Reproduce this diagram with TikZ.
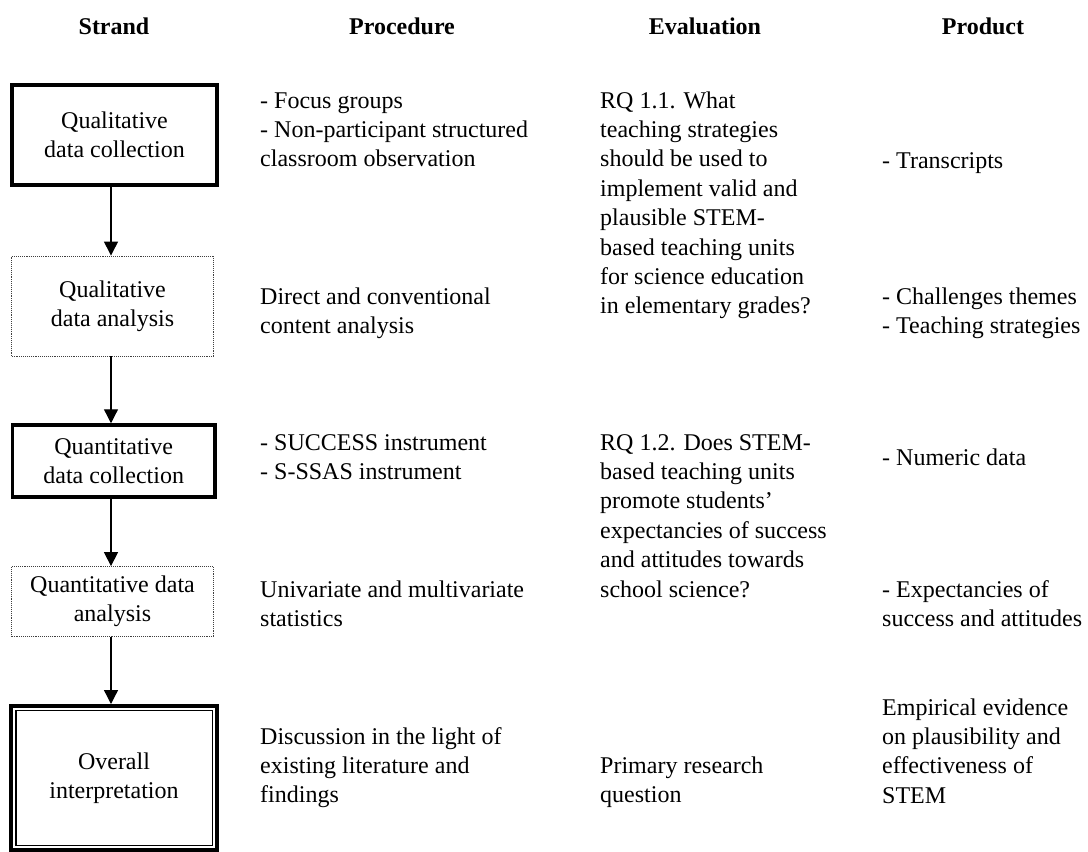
\documentclass[tikz,border=0pt]{standalone}
\usepackage{fontspec}
\setmainfont{Liberation Serif}
\usetikzlibrary{arrows.meta}
% left-aligned block whose baseline is that of its first line
\newcommand{\txtlines}[1]{\begin{tabular}[t]{@{}l@{}}#1\end{tabular}}

\begin{document}
\begin{tikzpicture}[x=1pt,y=-1pt,
  every node/.style={font=\fontsize{24}{29.4}\selectfont, inner sep=0pt},
  txt/.style={anchor=base west},
  head/.style={anchor=base, font=\fontsize{24}{29.4}\selectfont\bfseries},
  solidbox/.style={draw, line width=3.5pt, align=center},
  dotbox/.style={draw, densely dotted, line width=0.9pt, draw=black!75, align=center},
  arr/.style={line width=1.3pt, -{Triangle[width=14pt,length=14pt]}}]

\useasboundingbox (0,0) rectangle (1088,852);

% column headings
\node[head] (hs) at (114,34) {Strand};
\node[head] (hp) at (402,34) {Procedure};
\node[head] (he) at (705,34) {Evaluation};
\node[head] (hr) at (983,34) {Product};

% strand boxes
\node[solidbox, minimum width=205pt, minimum height=100pt] (qlc) at (114.5,135) {Qualitative\\data collection};
\node[dotbox, minimum width=201.5pt, minimum height=100pt] (qla) at (112.5,306) {Qualitative\\data analysis};
\node[solidbox, minimum width=202.5pt, minimum height=72pt] (qnc) at (113.7,461) {Quantitative\\data collection};
\node[dotbox, minimum width=201.5pt, minimum height=69.5pt] (qna) at (112.5,601.3) {Quantitative data\\analysis};
\node[draw, line width=4pt, minimum width=205.5pt, minimum height=144pt, align=center] (oi) at (114,778) {Overall\\interpretation};
\draw[line width=1.5pt] ([xshift=6.5pt,yshift=-6.5pt]oi.north west) rectangle ([xshift=-6.5pt,yshift=6.5pt]oi.south east);

% flow between strands
\coordinate (axis) at (111,0);
\draw[arr] (qlc.south -| axis) -- (qla.north -| axis);
\draw[arr] (qla.south -| axis) -- (qnc.north -| axis);
\draw[arr] (qnc.south -| axis) -- (qna.north -| axis);
\draw[arr] (qna.south -| axis) -- (oi.north -| axis);

% procedures
\node[txt] (p1) at (260,108) {\txtlines{- Focus groups\\- Non-participant structured\\classroom observation}};
\node[txt] (p2) at (260,304) {\txtlines{Direct and conventional\\content analysis}};
\node[txt] (p3) at (260,450) {\txtlines{- SUCCESS instrument\\- S-SSAS instrument}};
\node[txt] (p4) at (260,597) {\txtlines{Univariate and multivariate\\statistics}};
\node[txt] (p5) at (260,744) {\txtlines{Discussion in the light of\\existing literature and\\findings}};

% evaluation
\node[txt] (e1) at (600,108) {\txtlines{RQ 1.1. What\\teaching strategies\\should be used to\\implement valid and\\plausible STEM-\\based teaching units\\for science education\\in elementary grades?}};
\node[txt] (e2) at (600,450) {\txtlines{RQ 1.2. Does STEM-\\based teaching units\\promote students’\\expectancies of success\\and attitudes towards\\school science?}};
\node[txt] (e3) at (600,773) {\txtlines{Primary research\\question}};

% products
\node[txt] (r1) at (882,168) {\txtlines{- Transcripts}};
\node[txt] (r2) at (882,304) {\txtlines{- Challenges themes\\- Teaching strategies}};
\node[txt] (r3) at (882,465) {\txtlines{- Numeric data}};
\node[txt] (r4) at (882,597) {\txtlines{- Expectancies of\\success and attitudes}};
\node[txt] (r5) at (882,715) {\txtlines{Empirical evidence\\on plausibility and\\effectiveness of\\STEM}};
\end{tikzpicture}
\end{document}
